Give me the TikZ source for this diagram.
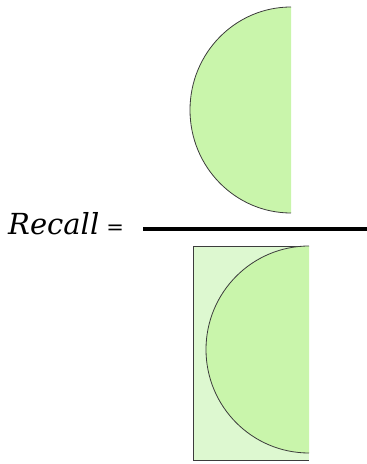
\documentclass[tikz,border=0pt]{standalone}
\usepackage{fontspec}
\setmainfont{DejaVu Serif}
\definecolor{discgreen}{RGB}{201,245,171}
\definecolor{boxgreen}{RGB}{221,248,208}
\definecolor{edgegray}{RGB}{60,60,60}
\tikzset{
  outline/.style={draw=edgegray, line width=0.8pt},
  fracline/.style={draw=black, line width=3.2pt},
  label/.style={inner sep=0pt, font=\fontsize{29}{29}\selectfont\itshape}
}
\begin{document}
\begin{tikzpicture}[x=1pt,y=1pt]
\useasboundingbox (0,0) rectangle (367,464);
% top half disc (numerator)
\fill[discgreen] (291,457) arc[start angle=90,end angle=270,x radius=101,y radius=103] -- cycle;
\draw[outline] (291,457) arc[start angle=90,end angle=270,x radius=101,y radius=103];
% bottom rectangle (denominator)
\fill[boxgreen] (193,4) rectangle (309,218);
\draw[outline] (309,218) -- (193,218) -- (193,4) -- (309,4);
\fill[discgreen] (309,218) arc[start angle=90,end angle=270,x radius=103,y radius=103.5] -- cycle;
\draw[outline] (309,218) arc[start angle=90,end angle=270,x radius=103,y radius=103.5];
% fraction line
\coordinate (fl) at (143,235);
\coordinate (fr) at (367,235);
\draw[fracline] (fl) -- (fr);
% label
\node[label, anchor=base west] (rec) at (8,229) {Recall\hspace{7pt}{\upshape\fontsize{21}{21}\selectfont=}};
\end{tikzpicture}
\end{document}
